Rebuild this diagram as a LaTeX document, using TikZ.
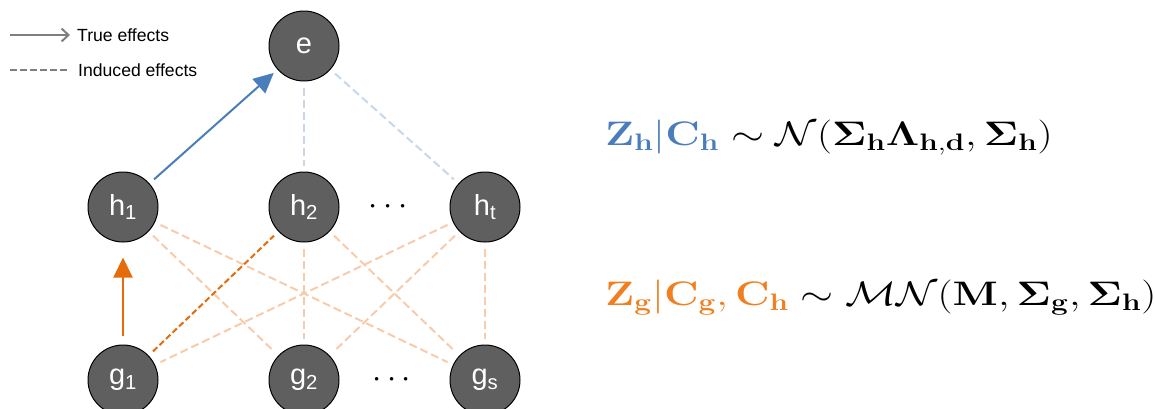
\RequirePackage{fix-cm}
\documentclass[tikz,border=0pt]{standalone}
\usepackage[no-math]{fontspec}
\newfontfamily\labelfont{Liberation Sans}
\usepackage{xcolor}
\usepackage{graphicx}
\usepackage{amsmath}
\usetikzlibrary{arrows.meta,positioning,calc}

\definecolor{nodegray}{HTML}{5F5F5F}
\definecolor{legendgray}{HTML}{7F7F7F}
\definecolor{effblue}{HTML}{4A7EBB}
\definecolor{indblue}{HTML}{C9D7EB}
\definecolor{efforange}{HTML}{E46C0A}
\definecolor{eqorange}{HTML}{F07F1F}
\definecolor{indorange}{HTML}{F8CBAD}

\begin{document}
\begin{tikzpicture}[
  x=1pt, y=-1pt,
  node distance=110pt,
  var/.style={circle, draw=black, line width=1pt, fill=nodegray, minimum size=70pt, inner sep=0pt, text=white, font=\labelfont\fontsize{29}{32}\selectfont},
  legendtext/.style={anchor=west, inner sep=0pt, font=\labelfont\fontsize{17.6}{20}\selectfont},
  dotsnode/.style={inner sep=0pt, font=\fontsize{33}{36}\selectfont},
  eqnode/.style={anchor=base west, inner sep=0pt, font=\fontsize{34}{40}\selectfont},
  truearrow/.style={line width=2pt, -{Triangle[length=20pt, width=19pt]}},
  induced/.style={line width=2pt, dash pattern=on 8pt off 4pt, shorten <=6pt, shorten >=6pt}
]
\useasboundingbox (0,0) rectangle (1155,408);

% legend
\coordinate (truestart) at (10,35);
\coordinate (trueend) at (70,35);
\coordinate (indstart) at (10,70);
\coordinate (indend) at (70,70);
\draw[legendgray, line width=2pt, -{Straight Barb[length=7pt, width=13pt]}] (truestart) -- (trueend);
\draw[legendgray, line width=2pt, dash pattern=on 7pt off 3pt] (indstart) -- (indend);
\node[legendtext] (truelabel) at (77,35) {True effects};
\node[legendtext] (indlabel) at (78,70) {Induced effects};

% variables
\node[var] (h1) at (123,207) {h\textsubscript{1}};
\node[var, right=of h1] (h2) {h\textsubscript{2}};
\node[var, right=of h2] (ht) {h\textsubscript{t}};
\node[var, above=90pt of h2] (e) {e};
\node[var, below=102pt of h1] (g1) {g\textsubscript{1}};
\node[var, right=of g1] (g2) {g\textsubscript{2}};
\node[var, right=of g2] (gs) {g\textsubscript{s}};
\node[dotsnode] (hdots) at ($(h2)!0.48!(ht)$) {$\cdots$};
\node[dotsnode] (gdots) at ($(g2)!0.5!(gs)$) {$\cdots$};

% induced effects
\draw[induced, indblue] (e) -- (h2);
\draw[induced, indblue] (e) -- (ht);
\foreach \from/\to in {h1/g2, h1/gs, h2/g2, h2/gs, ht/g1, ht/g2, ht/gs}
  \draw[induced, indorange] (\from) -- (\to);
\draw[induced, efforange, dash pattern=on 6pt off 3pt] (g1) -- (h2);

% true effects
\draw[truearrow, effblue, shorten <=6pt, shorten >=5pt] (h1) -- (e);
\draw[truearrow, efforange, shorten <=9pt, shorten >=15pt] (g1) -- (h1);

% distributions
\node[eqnode] (eqh) at (605,145) {\scalebox{1.25}[1]{$\textcolor{effblue}{\mathbf{Z_h}|\mathbf{C_h}} \sim \mathcal{N}(\mathbf{\Sigma_h\Lambda_{h,d}},\mathbf{\Sigma_h})$}};
\node[eqnode] (eqg) at (605,305) {\scalebox{1.25}[1]{$\textcolor{eqorange}{\mathbf{Z_g}|\mathbf{C_g},\mathbf{C_h}} \sim \mathcal{M}\mathcal{N}(\mathbf{M},\mathbf{\Sigma_g},\mathbf{\Sigma_h})$}};
\end{tikzpicture}
\end{document}
